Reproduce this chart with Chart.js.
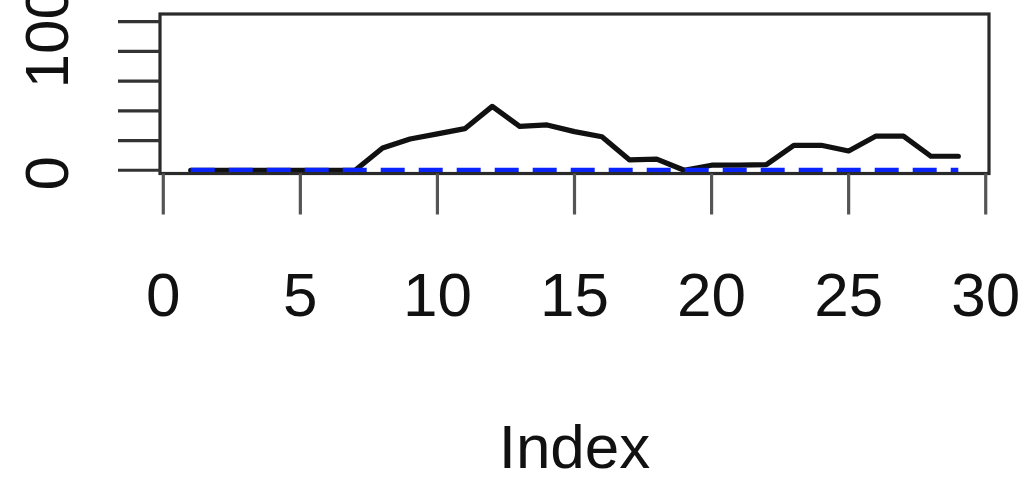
<!DOCTYPE html>
<html>
<head>
<meta charset="utf-8">
<script src="https://cdn.jsdelivr.net/npm/chart.js@4/dist/chart.umd.min.js"></script>
<style>
  html, body { margin: 0; padding: 0; background: #ffffff; }
  #wrap { width: 1025px; height: 482px; position: relative; }
</style>
</head>
<body>
<div id="wrap"><canvas id="plot"></canvas></div>
<script>
// Observation index (x) and the two series plotted against it
const index = [1, 2, 3, 4, 5, 6, 7, 8, 9, 10, 11, 12, 13, 14, 15, 16, 17, 18, 19, 20, 21, 22, 23, 24, 25, 26, 27, 28, 29];
const observed = [0, 0, 0, 0, 0, 0, 0, 15, 21, 24.5, 28, 43, 29.5, 30.5, 26, 22.5, 7, 7.5, 0, 3.4, 3.4, 3.8, 16.8, 16.8, 13, 23, 23, 9.4, 9.4];
const baseline = [0, 0, 0, 0, 0, 0, 0, 0, 0, 0, 0, 0, 0, 0, 0, 0, 0, 0, 0, 0, 0, 0, 0, 0, 0, 0, 0, 0, 0];

// Axis ticks and the labels printed on them
const xTicks = [0, 5, 10, 15, 20, 25, 30];
const xTickLabels = ['0', '5', '10', '15', '20', '25', '30'];
const yTicks = [0, 20, 40, 60, 80, 100];
const yLabelValues = [0, 100];
const yLabelTexts = ['0', '100'];
const xTitle = 'Index';

const FONT = '62px "Liberation Sans", Arial, Helvetica, sans-serif';
const INK = '#111111';

const toPoints = (ys) => index.map((x, i) => ({ x: x, y: ys[i] }));

// Base-graphics style frame: box, outward ticks, rotated y labels, axis title
const basePlotFrame = {
  id: 'basePlotFrame',
  afterDraw(chart) {
    const { ctx, chartArea: a, scales: { x, y } } = chart;
    ctx.save();

    // box around the plotting region
    ctx.strokeStyle = '#2a2a2a';
    ctx.lineWidth = 3.2;
    ctx.strokeRect(a.left, a.top, a.right - a.left, a.bottom - a.top);

    // x tick marks
    ctx.strokeStyle = '#555555';
    ctx.lineWidth = 3.2;
    xTicks.forEach(v => {
      const px = x.getPixelForValue(v);
      ctx.beginPath();
      ctx.moveTo(px, a.bottom);
      ctx.lineTo(px, a.bottom + 41);
      ctx.stroke();
    });

    // y tick marks
    ctx.strokeStyle = '#333333';
    yTicks.forEach(v => {
      const py = y.getPixelForValue(v);
      ctx.beginPath();
      ctx.moveTo(a.left, py);
      ctx.lineTo(a.left - 42, py);
      ctx.stroke();
    });

    // x tick labels
    ctx.fillStyle = INK;
    ctx.font = FONT;
    ctx.textAlign = 'center';
    ctx.textBaseline = 'alphabetic';
    xTicks.forEach((v, i) => {
      ctx.fillText(xTickLabels[i], x.getPixelForValue(v), a.bottom + 142);
    });

    // y tick labels, written parallel to the axis
    yLabelValues.forEach((v, i) => {
      const py = y.getPixelForValue(v) + (v === 0 ? 3 : 15);
      ctx.save();
      ctx.translate(a.left - 92, py);
      ctx.rotate(-Math.PI / 2);
      ctx.textAlign = 'center';
      ctx.textBaseline = 'alphabetic';
      ctx.fillText(yLabelTexts[i], 0, 0);
      ctx.restore();
    });

    // x axis title
    ctx.textAlign = 'center';
    ctx.fillText(xTitle, (a.left + a.right) / 2, 468);

    ctx.restore();
  }
};

new Chart(document.getElementById('plot'), {
  type: 'line',
  data: {
    datasets: [
      {
        data: toPoints(observed),
        borderColor: '#111111',
        borderWidth: 5.2,
        borderCapStyle: 'round',
        borderJoinStyle: 'round',
        pointRadius: 0,
        tension: 0,
        fill: false,
        order: 2
      },
      {
        data: toPoints(baseline),
        borderColor: '#0a24ff',
        borderWidth: 5,
        borderDash: [24, 14],
        borderCapStyle: 'butt',
        pointRadius: 0,
        tension: 0,
        fill: false,
        order: 1
      }
    ]
  },
  options: {
    responsive: true,
    maintainAspectRatio: false,
    animation: false,
    events: [],
    layout: { padding: { left: 160, right: 36, top: 14, bottom: 308.5 } },
    scales: {
      x: { type: 'linear', min: -0.12, max: 30.12, display: false },
      y: { type: 'linear', min: -2.2, max: 105.2, display: false }
    },
    plugins: {
      legend: { display: false },
      tooltip: { enabled: false }
    }
  },
  plugins: [basePlotFrame]
});
</script>
</body>
</html>
